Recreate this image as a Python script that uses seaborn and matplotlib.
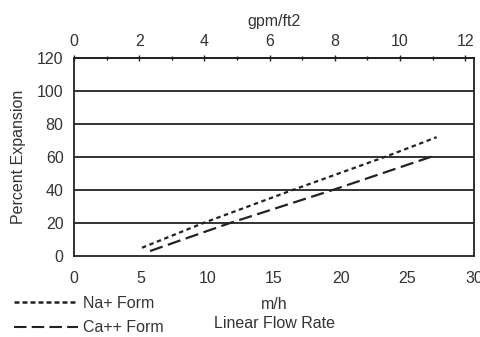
import numpy as np
import pandas as pd
import seaborn as sns
import matplotlib.pyplot as plt
from matplotlib.lines import Line2D
from matplotlib.ticker import MultipleLocator

# datos
na_x = [5.1, 9.7, 16.4, 23.3, 27.2]
na_y = [5, 20, 40, 60, 72]
ca_x = [5.7, 11.7, 19.4, 27.1]
ca_y = [3, 20, 40, 61]
y_ticks = [0, 20, 40, 60, 80, 100, 120]
M_H_PER_GPM = 2.445

sns.set_style('white')
plt.rcParams['font.family'] = ['Liberation Sans', 'DejaVu Sans']
txt = '#333333'

df = pd.concat([
    pd.DataFrame({'x': na_x, 'y': na_y, 'form': 'Na+ Form'}),
    pd.DataFrame({'x': ca_x, 'y': ca_y, 'form': 'Ca++ Form'}),
])

fig = plt.figure(figsize=(4.81, 3.37), dpi=100)
ax = fig.add_axes([74 / 481, 1 - 256 / 337, 400 / 481, 198 / 337])

sns.lineplot(data=df, x='x', y='y', hue='form', style='form',
             palette=['#222222', '#222222'],
             dashes={'Na+ Form': (2, 1.6), 'Ca++ Form': (6, 2.5)},
             linewidth=1.6, legend=False, ax=ax, sort=False)

for v in y_ticks[1:]:
    ax.axhline(v, color='#222222', lw=1.3, zorder=0)

ax.set_xlim(0, 30)
ax.set_ylim(0, 120)
ax.set_yticks(y_ticks)
ax.xaxis.set_major_locator(MultipleLocator(5))
ax.xaxis.set_minor_locator(MultipleLocator(1))
for s in ax.spines.values():
    s.set_color('#222222')
    s.set_linewidth(1.3)
ax.tick_params(axis='x', which='both', direction='inout', length=5, width=1, colors='#222222',
               labelcolor=txt, labelsize=11.5, pad=8)
ax.tick_params(axis='x', which='minor', length=3)
ax.tick_params(axis='y', direction='out', length=4, width=1, colors='#222222',
               labelcolor=txt, labelsize=11.5)
ax.set_ylabel('Percent Expansion', color=txt, fontsize=11.5, labelpad=8)
ax.set_xlabel('m/h\nLinear Flow Rate', color=txt, fontsize=11.5, labelpad=8, linespacing=1.35)

top = ax.secondary_xaxis('top', functions=(lambda x: x / M_H_PER_GPM, lambda x: x * M_H_PER_GPM))
top.set_xticks([0, 2, 4, 6, 8, 10, 12])
top.xaxis.set_minor_locator(MultipleLocator(1))
top.tick_params(which='both', direction='inout', length=5, width=1, colors='#222222',
                labelcolor=txt, labelsize=11.5, pad=4)
top.tick_params(which='minor', length=3)
top.set_xlabel('gpm/ft2', color=txt, fontsize=11.5, labelpad=6)
top.spines['top'].set_linewidth(1.3)

handles = [Line2D([], [], color='#222222', lw=1.8, dashes=(2, 1.2)),
           Line2D([], [], color='#222222', lw=1.5, dashes=(6, 2.5))]
fig.legend(handles, ['Na+ Form', 'Ca++ Form'], loc='upper left',
           bbox_to_anchor=(0.0, 0.165), frameon=False, handlelength=4,
           handletextpad=0.3, labelspacing=0.6, fontsize=11.5, labelcolor=txt)

fig.savefig('out.png', dpi=100)
